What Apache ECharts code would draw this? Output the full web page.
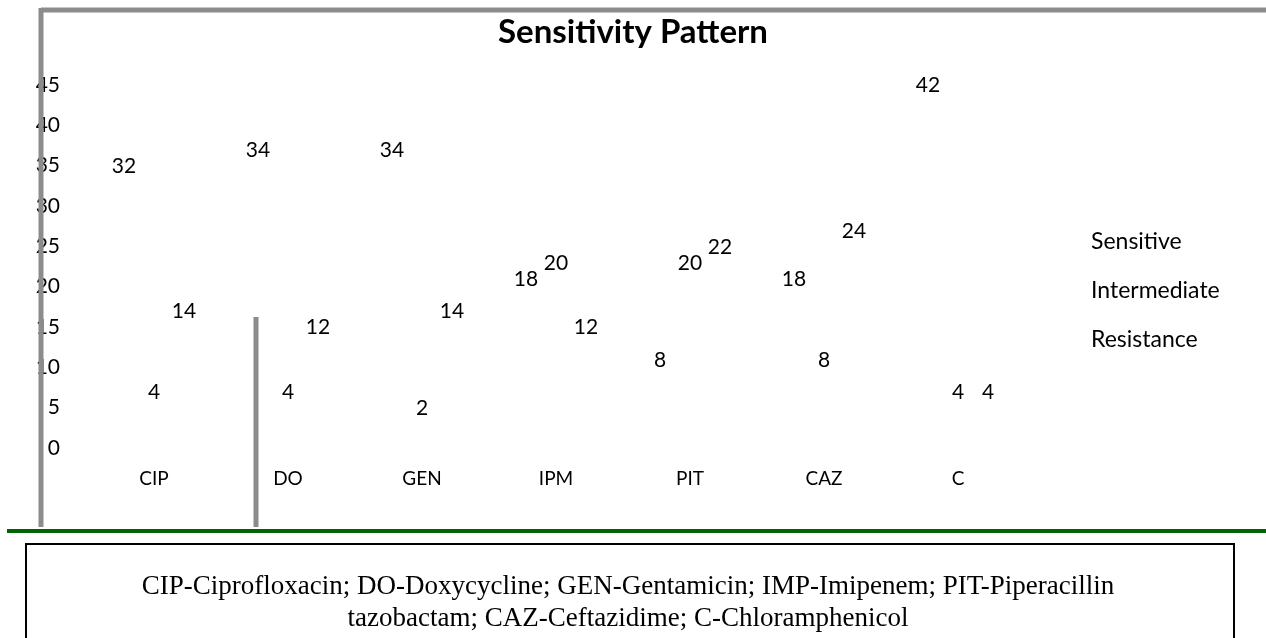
<!DOCTYPE html>
<html>
<head>
<meta charset="utf-8">
<title>Sensitivity Pattern</title>
<script src="https://cdn.jsdelivr.net/npm/echarts@6/dist/echarts.min.js"></script>
<style>
html, body { margin: 0; padding: 0; background: #fff; }
#chart { width: 1266px; height: 638px; }
</style>
</head>
<body>
<div id="chart"></div>
<script>
// data
const categories = ['CIP', 'DO', 'GEN', 'IPM', 'PIT', 'CAZ', 'C']
const sensitive = [32, 34, 34, 18, 8, 18, 42]
const intermediate = [4, 4, 2, 20, 20, 8, 4]
const resistance = [14, 12, 14, 12, 22, 24, 4]
const seriesNames = ['Sensitive', 'Intermediate', 'Resistance']
const footnoteLines = [
  'CIP-Ciprofloxacin; DO-Doxycycline; GEN-Gentamicin; IMP-Imipenem; PIT-Piperacillin',
  'tazobactam; CAZ-Ceftazidime; C-Chloramphenicol'
]

const font = 'Lato, "Open Sans", sans-serif'

const barSeries = (name, values) => ({
  name: name,
  type: 'bar',
  data: values,
  barWidth: 30,
  barGap: '0%',
  itemStyle: { color: 'rgba(0,0,0,0)' },
  label: {
    show: true,
    position: 'top',
    distance: 13,
    color: '#000',
    fontSize: 21,
    fontFamily: font
  }
})

const chart = echarts.init(document.getElementById('chart'))
chart.setOption({
  animation: false,
  title: {
    text: 'Sensitivity Pattern',
    left: 'center',
    top: 11,
    textStyle: { fontSize: 33, fontWeight: 'bold', color: '#000', fontFamily: font }
  },
  legend: {
    orient: 'vertical',
    left: 1081,
    top: 225,
    itemWidth: 0,
    itemHeight: 20,
    itemGap: 26,
    icon: 'rect',
    data: seriesNames,
    textStyle: { fontSize: 23, color: '#000', fontFamily: font }
  },
  grid: { left: 87, right: 241, top: 85, bottom: 190 },
  xAxis: {
    type: 'category',
    data: categories,
    axisLine: { show: false },
    axisTick: { show: false },
    axisLabel: { color: '#000', fontSize: 19, fontFamily: font, margin: 21 }
  },
  yAxis: {
    type: 'value',
    min: 0,
    max: 45,
    interval: 5,
    axisLine: { show: false },
    axisTick: { show: false },
    splitLine: { show: false },
    axisLabel: { color: '#000', fontSize: 21, fontFamily: font, margin: 27 }
  },
  series: [
    barSeries(seriesNames[0], sensitive),
    barSeries(seriesNames[1], intermediate),
    barSeries(seriesNames[2], resistance)
  ],
  graphic: [
    // frame lines
    { type: 'line', z: 100, shape: { x1: 41, y1: 10, x2: 1266, y2: 10 }, style: { stroke: '#8c8c8c', lineWidth: 5 } },
    { type: 'line', z: 100, shape: { x1: 41, y1: 8, x2: 41, y2: 527 }, style: { stroke: '#8c8c8c', lineWidth: 5 } },
    { type: 'line', z: 100, shape: { x1: 256, y1: 317, x2: 256, y2: 527 }, style: { stroke: '#8c8c8c', lineWidth: 5 } },
    { type: 'line', z: 100, shape: { x1: 7, y1: 531, x2: 1266, y2: 531 }, style: { stroke: '#006400', lineWidth: 4 } },
    // footnote box
    { type: 'rect', z: 100, shape: { x: 26, y: 544, width: 1208, height: 110 }, style: { fill: '#fff', stroke: '#000', lineWidth: 2 } },
    {
      type: 'text', z: 101, x: 628, y: 571,
      style: {
        text: footnoteLines.join('\n'),
        font: '27px "Liberation Serif", "Times New Roman", serif',
        fill: '#000',
        align: 'center',
        lineHeight: 32
      }
    }
  ]
})
</script>
</body>
</html>
